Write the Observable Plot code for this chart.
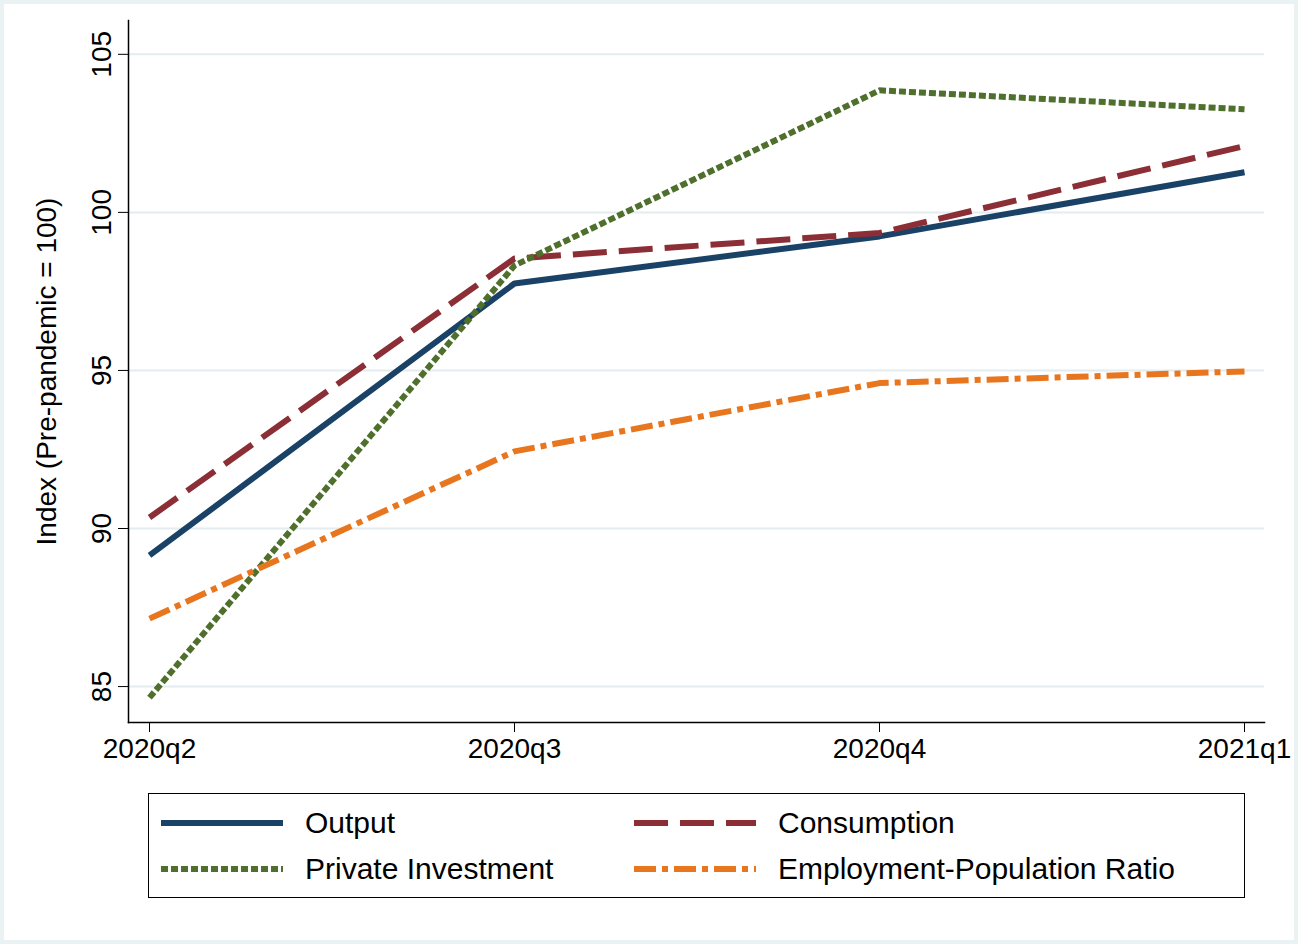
<!DOCTYPE html>
<html><head><meta charset="utf-8">
<script src="https://cdn.jsdelivr.net/npm/d3@7"></script>
<script src="https://cdn.jsdelivr.net/npm/@observablehq/plot@0.6"></script>
<style>
body{margin:0;background:#fff;font-family:"Liberation Sans",Arial,sans-serif;}
#wrap{width:1290px;height:936px;border:4px solid #eaf2f3;position:relative;overflow:hidden;}
#legend{position:absolute;left:144px;top:789px;width:1097px;height:105px;border:1.5px solid #000;box-sizing:border-box;font-size:30px;}
.item{position:absolute;display:flex;align-items:center;}
.item svg{margin-right:22px;}
</style></head><body>
<div id="wrap"><div id="chart"></div><div id="legend"></div></div>
<script>
const quarters=["2020q2","2020q3","2020q4","2021q1"];
const output=[89.15,97.75,99.24,101.27];
const consumption=[90.35,98.54,99.35,102.1];
const investment=[84.65,98.32,103.86,103.26];
const employment=[87.15,92.44,94.6,94.97];
const yTicks=[85,90,95,100,105];
const series=[
 {name:"Output",vals:output,color:"#1a4266",dash:null},
 {name:"Consumption",vals:consumption,color:"#8b2e35",dash:"34,12"},
 {name:"Private Investment",vals:investment,color:"#4f6f2c",dash:"7,3"},
 {name:"Employment-Population Ratio",vals:employment,color:"#e8761e",dash:"22,6,6,6"}
];
const rows=series.flatMap(s=>s.vals.map((v,i)=>({q:quarters[i],v,name:s.name})));
const marks=[
 Plot.gridY(yTicks,{stroke:"#e3ecee",strokeOpacity:1,strokeWidth:2}),
 Plot.frame({anchor:"left",stroke:"#000",strokeWidth:1.5}),
 Plot.frame({anchor:"bottom",stroke:"#000",strokeWidth:1.5}),
 Plot.axisY(yTicks,{tickRotate:-90,fontSize:28,tickSize:10,tickPadding:8,label:"Index (Pre-pandemic = 100)",labelAnchor:"center",labelOffset:92,labelArrow:"none"}),
 Plot.axisX({fontSize:28,tickSize:10,tickPadding:6,label:null}),
];
for(const s of series){
 marks.push(Plot.line(rows.filter(r=>r.name===s.name),{x:"q",y:"v",stroke:s.color,strokeWidth:6,strokeDasharray:s.dash,strokeLinecap:"butt"}));
}
const chart=Plot.plot({width:1290,height:780,marginLeft:124,marginRight:30,marginTop:16,marginBottom:62,
 style:{fontFamily:"Liberation Sans, Arial, sans-serif",color:"#000",overflow:"visible"},
 x:{type:"point",domain:quarters,range:[144,1240],padding:0,align:0.5},
 y:{domain:[83.99,106.07],range:[714,16]},
 marks});
document.getElementById("chart").append(chart);
const lg=document.getElementById("legend");
const pos=[[12,12],[485,12],[12,58],[485,58]];
series.forEach((s,i)=>{
 const d=document.createElement("div");d.className="item";d.style.left=pos[i][0]+"px";d.style.top=pos[i][1]+"px";
 d.innerHTML=`<svg width="122" height="30"><line x1="0" y1="15" x2="122" y2="15" stroke="${s.color}" stroke-width="6" ${s.dash?`stroke-dasharray="${s.dash}"`:""}/></svg><span>${s.name}</span>`;
 lg.append(d);});
</script></body></html>
